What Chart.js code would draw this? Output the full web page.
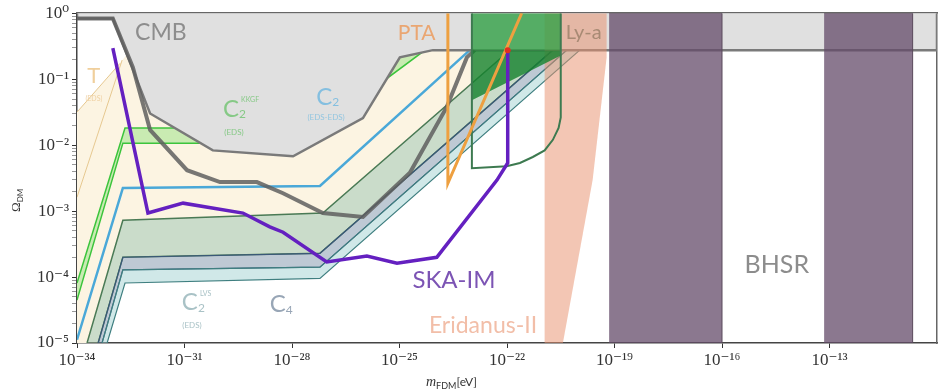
<!DOCTYPE html>
<html>
<head>
<meta charset="utf-8">
<script src="https://cdn.jsdelivr.net/npm/chart.js@4.4.1/dist/chart.umd.min.js"></script>
<style>
  html, body { margin: 0; padding: 0; background: #fff; }
  #wrap { width: 946px; height: 392px; }
</style>
</head>
<body>
<div id="wrap"><canvas id="grafico" width="946" height="392"></canvas></div>
<script>
// Todos os valores em expoentes: x = log10(m_FDM / eV), y = log10(Omega_DM)
const xTickExps = [-34, -31, -28, -25, -22, -19, -16, -13];
const yTickExps = [-5, -4, -3, -2, -1, 0];

// CMB (regiao cinza excluida)
const cmbX = [-34, -34, -33.0, -31.96, -30.21, -27.97, -26.02, -24.99, -24.07, -10, -10];
const cmbY = [0, -0.08, -0.08, -1.52, -2.08, -2.17, -1.59, -0.67, -0.56, -0.56, 0];
// segunda curva CMB (cinza escuro)
const cmb2X = [-34, -33.0, -32.44, -31.96, -30.93, -30.01, -28.98, -28.25, -27.14, -26.02, -24.71, -23.68, -23.12, -22.9];
const cmb2Y = [-0.08, -0.08, -0.82, -1.77, -2.38, -2.56, -2.56, -2.73, -3.03, -3.09, -2.42, -1.42, -0.67, -0.56];

// T (EDS)
const tX = [-34, -32.80, -32.52, -21.92, -27.14, -32.72, -33.72, -34];
const tY = [-1.5, -0.76, -0.56, -0.56, -3.03, -3.14, -5, -5];
const tLinhaX = [-34, -32.74];
const tLinhaY = [-2.79, -0.71];
const tLinha2X = [-34, -32.80];
const tLinha2Y = [-1.5, -0.76];

// C2 KKGF (EDS)
const kkX = [-34, -32.66, -28.06, -25.55, -24.29, -27.78, -32.72, -34];
const kkY = [-4.09, -1.74, -1.74, -0.56, -0.56, -1.97, -1.97, -4.35];

// C2 (EDS-EDS)
const eeX = [-34, -32.72, -27.22, -23.04];
const eeY = [-4.95, -2.65, -2.62, -0.56];

// faixas C2 LVS / C4
const sageX = [-33.72, -32.72, -27.14, -21.92, -20.72, -27.22, -32.72, -33.41];
const sageY = [-5, -3.14, -3.03, -0.56, -0.56, -3.64, -3.70, -5];
const slateX = [-33.41, -32.72, -27.22, -20.72, -20.33, -27.22, -32.72, -33.30];
const slateY = [-5, -3.70, -3.64, -0.56, -0.56, -3.85, -3.89, -5];
const tealX = [-33.30, -32.72, -27.22, -20.33, -19.97, -27.22, -32.66, -33.16];
const tealY = [-5, -3.89, -3.85, -0.56, -0.56, -4.02, -4.09, -5];

// SKA-IM
const skaX = [-33.0, -32.02, -31.04, -29.37, -28.62, -28.25, -27.03, -25.91, -25.07, -23.96, -22.28, -21.98, -21.98];
const skaY = [-0.53, -3.03, -2.88, -3.03, -3.24, -3.32, -3.77, -3.68, -3.79, -3.70, -2.53, -2.27, -0.59];

// PTA
const ptaX = [-23.65, -23.65, -21.59];
const ptaY = [0, -2.58, 0];

// caixa verde
const caixaTopoX = [-22.98, -20.50, -20.50, -22.98];
const caixaTopoY = [0, 0, -0.56, -0.56];
const caixaBaixoX = [-22.98, -20.50, -20.50, -22.98];
const caixaBaixoY = [-0.56, -0.56, -0.64, -1.32];
const caixaLinhaX = [-22.98, -22.98, -22.01, -21.64, -21.28, -20.95, -20.72, -20.56, -20.50, -20.50];
const caixaLinhaY = [0, -2.35, -2.32, -2.27, -2.18, -2.08, -1.92, -1.74, -1.58, 0];

// Eridanus-II / Ly-a
const eriX = [-20.95, -20.44, -19.61, -19.22, -19.22, -20.95];
const eriY = [-5, -5, -2.53, -0.67, 0, 0];

// BHSR
const bhsr1X = [-19.15, -16.0, -16.0, -19.15];
const bhsr2X = [-13.15, -10.68, -10.68, -13.15];
const bhsrY = [-5, -5, 0, 0];

const pontoX = [-21.98];
const pontoY = [-0.56];

// Rotulos do grafico
const rotulos = [
  { texto: 'CMB', x: -31.66, y: -0.30, tam: 23, cor: '#8d8d8d' },
  { texto: 'PTA', x: -24.52, y: -0.30, tam: 21, cor: '#eaa672' },
  { texto: 'Ly-a', x: -19.86, y: -0.30, tam: 20, cor: '#a88a74' },
  { texto: 'T', x: -33.53, y: -0.95, tam: 22, cor: '#f0cf9c' },
  { texto: '(EDS)', x: -33.53, y: -1.30, tam: 7, cor: '#efd0a2' },
  { texto: 'C', x: -29.70, y: -1.45, tam: 24, cor: '#86c986', sub: '2', sup: 'KKGF' },
  { texto: '(EDS)', x: -29.62, y: -1.80, tam: 8, cor: '#86c986' },
  { texto: 'C', x: -27.10, y: -1.27, tam: 24, cor: '#84bfe0', sub: '2' },
  { texto: '(EDS-EDS)', x: -27.05, y: -1.58, tam: 8, cor: '#94c6e0' },
  { texto: 'C', x: -30.85, y: -4.39, tam: 24, cor: '#a9c2c6', sub: '2', sup: 'LVS' },
  { texto: '(EDS)', x: -30.79, y: -4.74, tam: 8, cor: '#a9c2c6' },
  { texto: 'C', x: -28.40, y: -4.42, tam: 24, cor: '#98a6b6', sub: '4' },
  { texto: 'SKA-IM', x: -23.48, y: -4.05, tam: 24, cor: '#7c54b4' },
  { texto: 'Eridanus-II', x: -22.67, y: -4.73, tam: 23, cor: '#f2bea8' },
  { texto: 'BHSR', x: -14.47, y: -3.82, tam: 25, cor: '#8c8c8c' }
];

const pontos = (xs, ys) => xs.map((v, i) => ({ x: Math.pow(10, v), y: Math.pow(10, ys[i]) }));

const sup = s => String(s).split('').map(c => ({'-':'⁻','0':'⁰','1':'¹','2':'²','3':'³','4':'⁴','5':'⁵','6':'⁶','7':'⁷','8':'⁸','9':'⁹'})[c] || c).join('');

function regiao(xs, ys, fundo, borda, largura, ordem) {
    return {
        data: pontos(xs, ys), showLine: true, fill: 'shape',
        backgroundColor: fundo, borderColor: borda, borderWidth: largura,
        order: ordem
    };
}
function linha(xs, ys, cor, largura, ordem) {
    return {
        data: pontos(xs, ys), showLine: true, fill: false,
        borderColor: cor, borderWidth: largura, order: ordem
    };
}

const datasets = [
    { data: pontos(pontoX, pontoY), pointRadius: 3, backgroundColor: '#e03020', borderWidth: 0, order: 0 },
    linha(skaX, skaY, '#6420c0', 3.5, 1),
    linha(ptaX, ptaY, '#eea040', 3, 2),
    regiao(bhsr1X, bhsrY, 'rgba(100,75,105,0.75)', '#5a4a5c', 1, 3),
    regiao(bhsr2X, bhsrY, 'rgba(100,75,105,0.75)', '#5a4a5c', 1, 4),
    linha(caixaLinhaX, caixaLinhaY, '#3d7a50', 2, 5),
    regiao(caixaBaixoX, caixaBaixoY, 'rgba(20,130,45,0.8)', 'rgba(0,0,0,0)', 0, 6),
    regiao(caixaTopoX, caixaTopoY, 'rgba(50,160,70,0.8)', 'rgba(0,0,0,0)', 0, 7),
    regiao(eriX, eriY, 'rgba(232,145,112,0.52)', 'rgba(0,0,0,0)', 0, 8),
    linha(tLinhaX, tLinhaY, '#e6c890', 1, 9),
    linha(tLinha2X, tLinha2Y, '#e6c890', 1, 10),
    linha(cmb2X, cmb2Y, 'rgba(95,95,95,0.85)', 4, 11),
    regiao(cmbX, cmbY, '#e0e0e0', '#7a7a7a', 2.5, 12),
    regiao(tealX, tealY, 'rgba(150,205,205,0.45)', '#3f7f80', 1.2, 13),
    regiao(slateX, slateY, 'rgba(110,135,160,0.45)', '#3a5878', 1.2, 14),
    regiao(sageX, sageY, 'rgba(150,185,150,0.5)', '#4a7a55', 1.5, 15),
    linha(eeX, eeY, '#4aa8d8', 2.5, 16),
    regiao(kkX, kkY, 'rgba(150,225,130,0.5)', '#3cc43c', 1.5, 17),
    regiao(tX, tY, '#fcf4e2', 'rgba(0,0,0,0)', 0, 18)
];

// desenha os rotulos e os titulos dos eixos
const anotacoes = {
    id: 'anotacoes',
    afterDatasetsDraw(chart) {
        const { ctx, scales: { x, y } } = chart;
        ctx.save();
        ctx.textAlign = 'center';
        ctx.textBaseline = 'middle';
        rotulos.forEach(r => {
            const px = x.getPixelForValue(Math.pow(10, r.x));
            const py = y.getPixelForValue(Math.pow(10, r.y));
            ctx.fillStyle = r.cor;
            ctx.font = `${r.tam}px Lato`;
            ctx.fillText(r.texto, px, py);
            const w = ctx.measureText(r.texto).width;
            ctx.textAlign = 'left';
            if (r.sub) {
                ctx.font = `${Math.round(r.tam * 0.5)}px Lato`;
                ctx.fillText(r.sub, px + w / 2, py + r.tam * 0.22);
            }
            if (r.sup) {
                ctx.font = `${Math.round(r.tam * 0.3)}px Lato`;
                ctx.fillText(r.sup, px + w / 2 + 2, py - r.tam * 0.38);
            }
            ctx.textAlign = 'center';
        });
        ctx.restore();
    },
    afterDraw(chart) {
        const { ctx } = chart;
        ctx.save();
        ctx.fillStyle = '#333';
        ctx.textBaseline = 'alphabetic';
        // titulo do eixo x
        ctx.textAlign = 'left';
        let px = 426, py = 386;
        ctx.font = 'italic 14px "Liberation Serif"';
        ctx.fillText('m', px, py);
        px += ctx.measureText('m').width;
        ctx.font = '9px Lato';
        ctx.fillText('FDM', px, py + 3);
        px += ctx.measureText('FDM').width;
        ctx.font = '12px Lato';
        ctx.fillText('[eV]', px, py);
        // titulo do eixo y
        ctx.translate(20, 212);
        ctx.rotate(-Math.PI / 2);
        ctx.font = '13px "Liberation Serif"';
        ctx.fillText('Ω', 0, 0);
        const w = ctx.measureText('Ω').width;
        ctx.font = '8px Lato';
        ctx.fillText('DM', w, 3);
        ctx.restore();
    }
};

const fonteTicks = { family: '"Liberation Serif", "DejaVu Serif", serif', size: 17 };

grafico = new Chart(document.getElementById('grafico'), {
    type: 'scatter',
    data: { datasets },
    options: {
        responsive: false,
        animation: false,
        devicePixelRatio: 1,
        layout: { padding: 0 },
        elements: { point: { radius: 0 }, line: { tension: 0 } },
        plugins: { legend: { display: false }, tooltip: { enabled: false } },
        scales: {
            x: {
                type: 'logarithmic', position: 'bottom',
                min: 1e-34, max: 1e-10,
                afterBuildTicks: s => { s.ticks = xTickExps.map(e => ({ value: Math.pow(10, e) })); },
                afterFit: s => { s.height = 49; },
                ticks: {
                    autoSkip: false, maxRotation: 0, padding: 2, color: '#333', font: fonteTicks,
                    callback: v => '10' + sup(Math.round(Math.log10(v)))
                },
                grid: { drawOnChartArea: false, tickLength: 5, tickColor: '#333' },
                border: { color: '#444', width: 1.5 }
            },
            y: {
                type: 'logarithmic', position: 'left',
                min: 1e-5, max: 1,
                afterBuildTicks: s => {
                    const t = [];
                    yTickExps.forEach(e => {
                        for (let m = 1; m <= 9; m++) {
                            if (e === 0 && m > 1) break;
                            t.push({ value: m * Math.pow(10, e) });
                        }
                    });
                    s.ticks = t;
                },
                afterFit: s => { s.width = 77; },
                ticks: {
                    autoSkip: false, padding: 3, color: '#333', font: fonteTicks,
                    callback: v => {
                        const e = Math.log10(v);
                        return Math.abs(e - Math.round(e)) < 1e-6 ? '10' + sup(Math.round(e)) : '';
                    }
                },
                grid: {
                    drawOnChartArea: false, tickLength: 5,
                    tickColor: c => {
                        const e = Math.log10(c.tick ? c.tick.value : 1);
                        return Math.abs(e - Math.round(e)) < 1e-6 ? '#333' : '#999';
                    }
                },
                border: { color: '#444', width: 1.5 }
            },
            x2: {
                type: 'linear', position: 'top', min: 0, max: 1,
                afterFit: s => { s.height = 13; },
                ticks: { display: false },
                grid: { drawOnChartArea: false, drawTicks: false },
                border: { color: '#666', width: 1.5 }
            },
            y2: {
                type: 'linear', position: 'right', min: 0, max: 1,
                afterFit: s => { s.width = 9; },
                ticks: { display: false },
                grid: { drawOnChartArea: false, drawTicks: false },
                border: { color: '#666', width: 1.5 }
            }
        }
    },
    plugins: [anotacoes]
});
</script>
</body>
</html>
